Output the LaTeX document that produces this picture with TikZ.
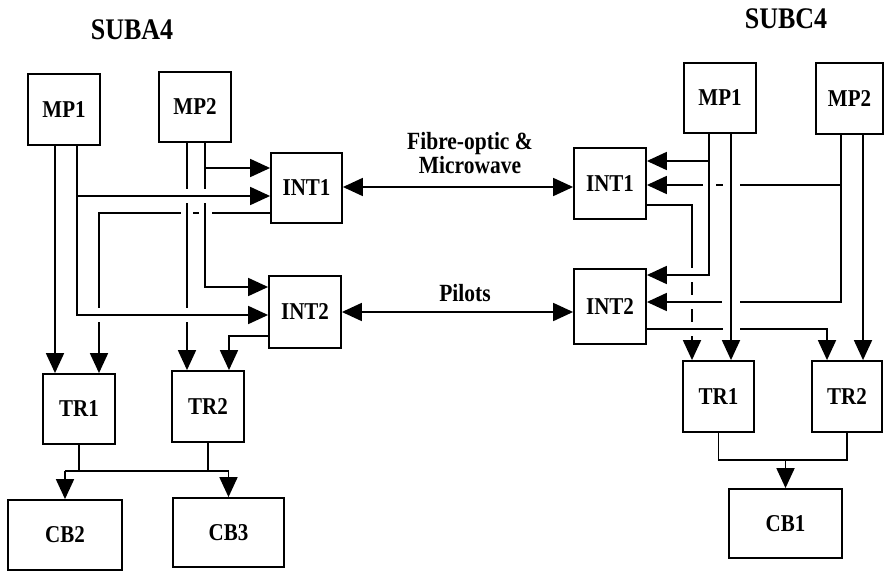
\documentclass[tikz,border=0pt]{standalone}
\usepackage{fontspec}
\setmainfont{Liberation Serif}
\usetikzlibrary{arrows.meta}
\newcommand\myvbreak[2]{\fill[white] (#1-1.6,#2-7) rectangle (#1+1.6,#2+7);}
\newcommand\myhbreak[3]{\fill[white] (#1-#3,#2-1.6) rectangle (#1+#3,#2+1.6);}
\newcommand\lbl[1]{\scalebox{1}[1.15]{#1}}
\begin{document}
\begin{tikzpicture}[x=1pt,y=-1pt,
  line width=1.8pt,
  box/.style={draw,rectangle,inner sep=0pt,font=\fontsize{21}{21}\selectfont\bfseries},
  arr/.style={-{Triangle[length=20pt,width=18pt]}},
  arrs/.style={{Triangle[length=20pt,width=18pt]}-{Triangle[length=20pt,width=18pt]}},
  title/.style={font=\fontsize{26}{26}\selectfont\bfseries},
  mid/.style={font=\fontsize{21.5}{21.5}\selectfont\bfseries,align=center}]
\useasboundingbox (0,0) rectangle (885,572);
% ---------- left: SUBA4 ----------
\node[title] (ta) at (132,30) {\lbl{SUBA4}};
\node[box,minimum width=72pt,minimum height=71pt] (LMP1) at (64,109.5) {\lbl{MP1}};
\node[box,minimum width=72pt,minimum height=70pt] (LMP2) at (195,107) {\lbl{MP2}};
\node[box,minimum width=71pt,minimum height=70pt] (LINT1) at (306.5,188) {\lbl{INT1}};
\node[box,minimum width=72pt,minimum height=72pt] (LINT2) at (305,312) {\lbl{INT2}};
\node[box,minimum width=72pt,minimum height=70pt] (LTR1) at (79,409) {\lbl{TR1}};
\node[box,minimum width=72pt,minimum height=71pt] (LTR2) at (208,406.5) {\lbl{TR2}};
\node[box,minimum width=114pt,minimum height=70pt] (LCB2) at (65,535) {\lbl{CB2}};
\node[box,minimum width=111pt,minimum height=69pt] (LCB3) at (228.5,532.5) {\lbl{CB3}};
% ---------- right: SUBC4 ----------
\node[title] (tc) at (786,19) {\lbl{SUBC4}};
\node[box,minimum width=72pt,minimum height=70pt] (RMP1) at (720,98) {\lbl{MP1}};
\node[box,minimum width=67pt,minimum height=71pt] (RMP2) at (849.5,98.5) {\lbl{MP2}};
\node[box,minimum width=72pt,minimum height=71pt] (RINT1) at (610,183.5) {\lbl{INT1}};
\node[box,minimum width=72pt,minimum height=75pt] (RINT2) at (610,306.5) {\lbl{INT2}};
\node[box,minimum width=71pt,minimum height=71pt] (RTR1) at (718.5,396.5) {\lbl{TR1}};
\node[box,minimum width=70pt,minimum height=71pt] (RTR2) at (847,396.5) {\lbl{TR2}};
\node[box,minimum width=113pt,minimum height=69pt] (RCB1) at (785.5,523.5) {\lbl{CB1}};
% ---------- middle ----------
\node[mid] (fo) at (470,153) {\lbl{Fibre-optic \&}\\[1pt]\lbl{Microwave}};
\node[mid] (pl) at (465,293) {\lbl{Pilots}};
\draw[arrs] (LINT1.east |- 0,187) -- (RINT1.west |- 0,187);
\draw[arrs] (LINT2.east |- 0,312) -- (RINT2.west |- 0,312);
% ---------- left connectors ----------
\draw[arr] (LINT1.west |- 0,213) -| (LTR1.north -| 99,0);
\myhbreak{187}{213}{6}
\myhbreak{205}{213}{6.5}
\myvbreak{99}{315}
\draw[arr] (LMP2.south -| 187,0) -- (LTR2.north -| 187,0);
\draw[arr] (LMP2.south -| 205,0) |- (LINT1.west |- 0,168);
\draw[arr] (LMP2.south -| 205,0) |- (LINT2.west |- 0,287);
\myvbreak{187}{196}
\myvbreak{205}{196}
\myvbreak{187}{315}
\draw[arr] (LMP1.south -| 77,0) |- (LINT1.west |- 0,196);
\draw[arr] (LMP1.south -| 77,0) |- (LINT2.west |- 0,315);
\draw[arr] (LMP1.south -| 55,0) -- (LTR1.north -| 55,0);
\draw[arr] (LINT2.west |- 0,336) -| (LTR2.north -| 229,0);
\draw (LCB2.north |- 0,471) -- (LCB3.north |- 0,471);
\draw (LTR1.south) -- (LTR1.south |- 0,471);
\draw (LTR2.south) -- (LTR2.south |- 0,471);
\draw[arr] (LCB2.north |- 0,471) -- (LCB2.north);
\draw[arr] (LCB3.north |- 0,471) -- (LCB3.north);
% ---------- right connectors ----------
\draw[arr] (RINT1.east |- 0,205) -| (RTR1.north -| 692,0);
\myvbreak{692}{275}
\myvbreak{692}{302}
\myvbreak{692}{329}
\draw[arr] (RMP2.south -| 841,0) |- (RINT1.east |- 0,185);
\draw[arr] (RMP2.south -| 841,0) |- (RINT2.east |- 0,302);
\draw[arr] (RINT2.east |- 0,329) -| (RTR2.north -| 827,0);
\myhbreak{709}{185}{6.5}
\myhbreak{731}{185}{8.5}
\myhbreak{731}{302}{9}
\myhbreak{731}{329}{8.5}
\draw[arr] (RMP1.south -| 709,0) |- (RINT1.east |- 0,161);
\draw[arr] (RMP1.south -| 709,0) |- (RINT2.east |- 0,275);
\draw[arr] (RMP1.south -| 731,0) -- (RTR1.north -| 731,0);
\draw[arr] (RMP2.south -| 863,0) -- (RTR2.north -| 863,0);
\draw (RTR1.south) |- (RTR2.south |- 0,460) -- (RTR2.south);
\draw[arr] (RCB1.north |- 0,460) -- (RCB1.north);
\end{tikzpicture}
\end{document}
